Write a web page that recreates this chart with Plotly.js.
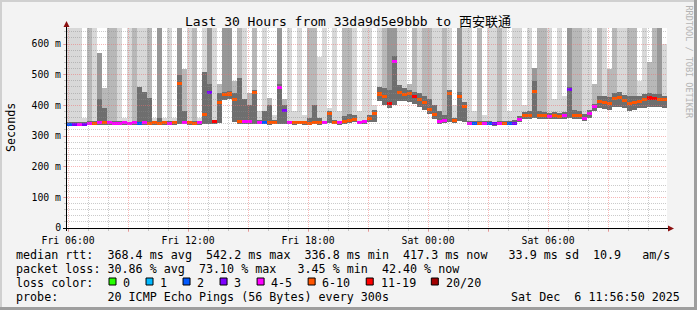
<!DOCTYPE html>
<html><head><meta charset="utf-8">
<script src="https://cdn.plot.ly/plotly-3.0.1.min.js"></script>
<style>
html,body{margin:0;padding:0;background:#f3f3f3;}
#wrap{position:relative;width:697px;height:310px;overflow:hidden;}
#chart{position:absolute;left:0;top:0;width:697px;height:310px;}
.b{position:absolute;pointer-events:none;}
</style></head><body>
<div id="wrap"><div id="chart"></div>
<div class="b" style="left:0;top:0;width:697px;height:2px;background:#d0d0d0"></div>
<div class="b" style="left:0;top:0;width:2px;height:310px;background:#d0d0d0"></div>
<div class="b" style="right:0;top:0;width:3px;height:310px;background:#9e9e9e"></div>
<div class="b" style="left:0;bottom:0;width:697px;height:3px;background:#9e9e9e"></div>
</div>
<script>
// ---- data (15-minute bins, Fri 05:56:50 .. Sat 11:56:50) ----
const startTime = '2025-12-05T05:56:50Z';
const endTime = '2025-12-06T11:56:50Z';
const binMinutes = 15;

const median = [338,337,339,338,340,342,343,344,343,342,
 342,343,342,343,342,343,342,343,342,343,
 342,343,470,345,343,342,343,370,441,346,
 410,434,437,420,348,346,347,442,345,344,
 343,344,458,382,345,343,344,343,342,344,
 343,344,372,345,343,348,352,355,345,346,
 356,372,437,428,405,542,442,436,440,430,
 418,410,385,370,348,350,440,350,430,396,
 342,341,342,341,341,340,341,342,341,342,
 355,367,368,445,368,366,365,366,364,366,
 451,368,366,358,372,396,412,410,406,422,
 425,416,405,410,413,418,424,422,420,418];

const lossClass = [2,3,4,3,4,5,4,5,4,4,
 4,4,4,4,2,4,5,5,5,5,
 4,5,5,4,5,5,4,5,3,6,
 5,5,5,5,5,4,4,5,4,2,
 5,5,4,3,4,5,5,5,5,5,
 5,4,5,5,4,5,5,5,4,4,
 5,5,5,5,6,4,5,5,5,6,
 5,5,5,5,4,4,5,5,5,5,
 4,2,5,4,2,3,4,5,2,3,
 4,5,5,5,5,5,4,5,5,4,
 3,5,5,4,4,4,5,5,5,5,
 5,5,5,5,5,5,6,6,5,5];

const smokeLo = [333,333,334,334,335,336,336,337,336,335,
 336,337,336,337,336,337,336,337,336,337,
 336,337,338,338,337,336,337,338,340,339,
 342,418,420,345,340,339,340,340,339,338,
 337,338,340,340,339,337,338,337,336,338,
 337,338,342,339,337,340,344,346,339,340,
 345,345,415,400,390,400,415,415,410,405,
 395,385,372,355,340,342,345,343,350,345,
 336,335,336,335,335,334,335,336,335,336,
 345,355,356,358,356,355,354,355,354,355,
 358,356,355,350,360,380,390,388,385,395,
 395,390,382,386,390,392,396,395,394,392];

const smokeHi = [660,660,660,360,660,660,570,455,660,660,
 660,360,660,660,660,660,660,360,660,360,
 660,360,660,520,660,660,360,660,660,660,
 470,660,660,480,660,660,440,660,380,660,
 425,370,660,420,660,380,660,370,660,660,
 557,660,390,660,380,660,660,660,380,660,
 660,400,660,660,660,660,660,660,470,660,
 660,660,660,660,660,660,660,400,660,660,
 660,380,660,370,660,660,660,660,380,660,
 660,400,660,522,660,660,660,420,660,430,
 660,660,660,660,660,470,660,660,520,660,
 660,660,660,660,480,660,540,660,660,600];

const smokeShade = [1,1,1,1,2,1,3,2,2,2,
 1,1,1,2,1,1,2,1,3,1,
 1,1,3,2,1,2,1,1,3,1,
 2,3,3,2,2,1,2,2,1,1,
 2,1,3,2,1,1,1,1,2,2,
 1,1,1,1,1,2,2,1,1,1,
 1,1,1,2,3,3,1,1,2,2,
 1,2,2,1,1,2,1,1,3,1,
 1,1,2,1,1,1,2,1,1,1,
 1,1,1,3,2,2,1,1,1,1,
 3,2,2,1,1,2,2,1,2,2,
 1,1,2,2,1,1,2,2,3,1];

const smokeMid = [345,345,345,345,348,350,420,390,350,350,
 348,346,346,348,460,444,425,346,360,346,
 350,346,500,380,350,350,348,510,470,350,
 440,445,448,440,490,420,400,450,352,380,
 400,352,470,400,350,348,350,348,360,400,
 360,350,380,352,348,365,372,370,350,352,
 370,385,460,455,450,560,465,455,450,445,
 440,430,420,400,380,370,450,360,445,410,
 350,348,350,348,348,347,348,350,348,352,
 365,378,380,480,380,378,376,378,376,378,
 460,385,380,372,385,405,430,430,428,440,
 442,435,430,432,432,436,440,438,436,432];

const lossLabels = ['0','1','2','3','4-5','6-10','11-19','20/20'];
const lossColors = ['#26ff00','#00b8ff','#0059ff','#7e00ff','#ff00ff','#ff5500','#ff0000','#a10000'];

const yTickVals = [0,100,200,300,400,500,600];
const yTickText = ['0','100 m','200 m','300 m','400 m','500 m','600 m'];
const xTickTimes = ['2025-12-05 06:00','2025-12-05 09:00','2025-12-05 12:00','2025-12-05 15:00','2025-12-05 18:00','2025-12-05 21:00','2025-12-06 00:00','2025-12-06 03:00','2025-12-06 06:00','2025-12-06 09:00'];
const xTickLabels = ['Fri 06:00','','Fri 12:00','','Fri 18:00','','Sat 00:00','','Sat 06:00',''];

const titleText = 'Last 30 Hours from 33da9d5e9bbb to 西安联通';
const legendLines = [
 'median rtt:  368.4 ms avg  542.2 ms max  336.8 ms min  417.3 ms now   33.9 ms sd  10.9   am/s',
 'packet loss: 30.86 % avg  73.10 % max   3.45 % min  42.40 % now',
 'loss color:',
 'probe:       20 ICMP Echo Pings (56 Bytes) every 300s'
];
const stampText = 'Sat Dec  6 11:56:50 2025';
const sideText = 'RRDTOOL / TOBI OETIKER';

// ---- helpers ----
const t0 = Date.parse(startTime), t1 = Date.parse(endTime);
const stepMs = binMinutes * 60000;
const fmt = ms => new Date(ms).toISOString().replace('T',' ').replace('Z','');
const xs = median.map((_, i) => fmt(t0 + stepMs * (i + 0.5)));
const nb = s => s.replace(/ /g, '\u00a0');
const PL = 67, PW = 600, PT = 28, PH = 200;
const px2x = p => (p - PL) / PW;
const py2y = p => (PT + PH - p) / PH;
const shadeColors = ['#ffffff','#d8d8d8','#b8b8b8','#989898'];
const FONT = 'DejaVu Sans Mono, Noto Sans CJK SC, monospace';

const traces = [
 {type:'bar', x:xs, base:smokeLo, y:smokeHi.map((v,i)=>v-smokeLo[i]), width:stepMs,
  marker:{color:smokeShade.map(s=>shadeColors[s]), line:{width:0}}, hoverinfo:'skip'},
 {type:'bar', x:xs, base:smokeLo, y:smokeMid.map((v,i)=>v-smokeLo[i]), width:stepMs,
  marker:{color:'#6e6e6e', line:{width:0}}, hoverinfo:'skip'},
 {type:'bar', x:xs, base:median.map(v=>v-5), y:median.map(()=>10), width:stepMs,
  marker:{color:lossClass.map(c=>lossColors[c]), line:{width:0}}, hoverinfo:'skip'},
 {type:'scatter', x:[], y:[], xaxis:'x2', yaxis:'y2', hoverinfo:'skip'}
];

const MAJ = 'rgba(240,110,110,0.5)', MIN = 'rgba(140,140,140,0.45)';
const shapes = [
 {type:'rect', xref:'paper', yref:'paper', x0:0, x1:1, y0:0, y1:1, fillcolor:'#ffffff', line:{width:0}, layer:'below'},
 {type:'line', xref:'paper', yref:'paper', x0:px2x(63), x1:px2x(669), y0:py2y(228.5), y1:py2y(228.5), line:{color:'#000', width:1}, layer:'above'},
 {type:'line', xref:'paper', yref:'paper', x0:px2x(66.5), x1:px2x(66.5), y0:py2y(231), y1:py2y(25), line:{color:'#000', width:1}, layer:'above'},
 {type:'path', xref:'paper', yref:'paper', path:`M ${px2x(66.5)},${py2y(21)} L ${px2x(63.5)},${py2y(27)} L ${px2x(69.5)},${py2y(27)} Z`, fillcolor:'#8b1010', line:{width:0}, layer:'above'},
 {type:'path', xref:'paper', yref:'paper', path:`M ${px2x(674)},${py2y(228.5)} L ${px2x(668)},${py2y(225.5)} L ${px2x(668)},${py2y(231.5)} Z`, fillcolor:'#8b1010', line:{width:0}, layer:'above'}
];

const ann = [];
const A = (text, x, y, opts) => ann.push(Object.assign({text:nb(text), xref:'paper', yref:'paper', x:px2x(x), y:py2y(y), showarrow:false, xanchor:'left', yanchor:'middle', borderpad:0, borderwidth:0, font:{family:FONT, size:11.7, color:'#000'}}, opts||{}));
A(titleText, 348, 21.5, {xanchor:'center', font:{family:FONT, size:13, color:'#000'}});
A('Seconds', 11, 128, {xanchor:'center', textangle:-90});
A(sideText, 688.5, 62, {xanchor:'center', textangle:90, font:{family:FONT, size:8.5, color:'#b4b4b4'}});
const lineY = [254.5, 268.5, 282.5, 296.5];
legendLines.forEach((t,i)=>A(t, 16, lineY[i]));
A(stampText, 680, lineY[3], {xanchor:'right'});

let bx = 109;
lossLabels.forEach((lab, k) => {
  shapes.push({type:'rect', xref:'paper', yref:'paper', x0:px2x(bx), x1:px2x(bx+7), y0:py2y(285), y1:py2y(278), fillcolor:lossColors[k], line:{color:'#000', width:1}, layer:'above'});
  A(lab, bx + 14.3, lineY[2]);
  bx += 30 + 7.02 * lab.length;
});

const layout = {
  width:697, height:310,
  margin:{l:PL, r:697-PL-PW, t:PT, b:310-PT-PH, pad:0},
  paper_bgcolor:'#f3f3f3', plot_bgcolor:'rgba(0,0,0,0)',
  showlegend:false, barmode:'overlay', bargap:0, hovermode:false,
  font:{family:FONT, size:11.7, color:'#000'},
  xaxis:{type:'date', range:[fmt(t0), fmt(t1)], tickmode:'array', tickvals:xTickTimes, ticktext:xTickLabels,
    ticks:'outside', ticklen:3, tickcolor:MAJ, tickfont:{family:FONT, size:9.8, color:'#000'},
    showgrid:false, zeroline:false, showline:false, fixedrange:true,
    minor:{dtick:3600000, tick0:'2025-12-05 00:00', ticks:'outside', ticklen:2, tickcolor:MIN, showgrid:false}},
  yaxis:{range:[0,652.2], tickmode:'array', tickvals:yTickVals, ticktext:yTickText,
    ticks:'outside', ticklen:3, tickcolor:MAJ, tickfont:{family:FONT, size:9.8, color:'#000'},
    showgrid:false, zeroline:false, showline:false, fixedrange:true,
    minor:{dtick:20, tick0:0, ticks:'outside', ticklen:2, tickcolor:MIN, showgrid:false}},
  xaxis2:{type:'date', range:[fmt(t0), fmt(t1)], anchor:'y2', domain:[0,1], showticklabels:false, ticks:'',
    tick0:'2025-12-05 00:00', dtick:10800000, showgrid:true, gridcolor:MAJ, griddash:'1px,1px', gridwidth:1,
    zeroline:false, showline:false,
    minor:{dtick:3600000, tick0:'2025-12-05 00:00', showgrid:true, gridcolor:MIN, griddash:'1px,1px', gridwidth:1}},
  yaxis2:{range:[0,652.2], anchor:'x2', domain:[0,1], showticklabels:false, ticks:'',
    tick0:0, dtick:100, showgrid:true, gridcolor:MAJ, griddash:'1px,1px', gridwidth:1,
    zeroline:false, showline:false,
    minor:{dtick:20, tick0:0, showgrid:true, gridcolor:MIN, griddash:'1px,1px', gridwidth:1}},
  shapes:shapes, annotations:ann
};

Plotly.newPlot('chart', traces, layout, {staticPlot:true, displayModeBar:false});
</script>
</body></html>
